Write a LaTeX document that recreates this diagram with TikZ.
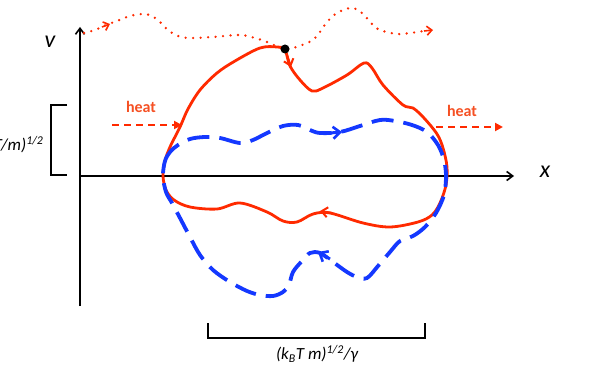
\documentclass[tikz,border=0pt]{standalone}
\usepackage{fontspec}
\setmainfont{Carlito}
\usetikzlibrary{arrows.meta}
\definecolor{rd}{RGB}{255,42,0}
\definecolor{bl}{RGB}{20,56,255}
\definecolor{heatc}{RGB}{245,80,35}
\begin{document}
\begin{tikzpicture}[x=1pt,y=-1pt,
  axis/.style={line width=1.6pt,black,-{Straight Barb[length=6pt,width=9pt,line width=1.6pt]}},
  brk/.style={line width=1.4pt,black},
  redloop/.style={line width=2.8pt,rd,line join=round},
  blueloop/.style={line width=3.8pt,bl,dash pattern=on 22pt off 10pt},
  dotpath/.style={line width=2.6pt,rd,line cap=round,dash pattern=on 0pt off 7.5pt},
  heatarrow/.style={line width=2pt,rd,dash pattern=on 7pt off 5pt,-{Triangle[length=8pt,width=8pt]}},
  heatlbl/.style={font=\bfseries\fontsize{16}{16}\selectfont,text=heatc},
  redtip/.style={line width=2.2pt,rd,-{Straight Barb[length=6pt,width=10pt,line width=2pt]}},
  bluetip/.style={line width=3pt,bl,-{Straight Barb[length=7pt,width=12pt,line width=2.6pt]}},
  axlbl/.style={font=\itshape\fontsize{24}{24}\selectfont},
  brlbl/.style={font=\itshape\fontsize{17}{17}\selectfont}]
\useasboundingbox (0,0) rectangle (598,369);

% axes
\coordinate (O) at (80,176);
\coordinate (ytop) at (80,27);
\coordinate (ybot) at (80,306);
\coordinate (xend) at (514,176);
\draw[axis] (ybot) -- (ytop);
\draw[axis] (O) -- (xend);
\node[axlbl] (vlab) at (50,42) {v};
\node[axlbl] (xlab) at (545,172) {x};

% brackets
\coordinate (lb1) at (67,105);
\coordinate (lb2) at (51,105);
\coordinate (lb3) at (51,175);
\coordinate (lb4) at (67,175);
\draw[brk] (lb1) -- (lb2) -- (lb3) -- (lb4);
\node[brlbl,anchor=east] (vlen) at (47,145) {(k\textsubscript{B}T/m)\textsuperscript{1/2}};
\coordinate (bb1) at (208,323);
\coordinate (bb2) at (208,338);
\coordinate (bb3) at (425,338);
\coordinate (bb4) at (425,323);
\draw[brk] (bb1) -- (bb2) -- (bb3) -- (bb4);
\node[brlbl] (xlen) at (317,354) {(k\textsubscript{B}T m)\textsuperscript{1/2}/γ};

% dotted trajectory
\draw[dotpath] plot[smooth,tension=0.6] coordinates {(84,33) (95,30) (106,25) (117,21) (130,16) (143,14) (152,16) (160,22) (168,30) (178,36) (190,38) (213,37) (240,35) (255,38) (267,42) (278,47) (285,49) (293,48) (302,45) (313,40) (320,32) (327,22) (337,13) (350,8) (358,10) (365,16) (372,24) (380,30) (397,34) (410,33) (424,31)};
\coordinate (da1) at (102,27);
\coordinate (da2) at (110,24);
\draw[rd,line width=1.6pt,-{Straight Barb[length=5pt,width=9pt,line width=1.6pt]}] (da1) -- (da2);
\coordinate (db1) at (424,31);
\coordinate (db2) at (433,30);
\draw[rd,line width=1.6pt,-{Straight Barb[length=5pt,width=9pt,line width=1.6pt]}] (db1) -- (db2);

% red loop
\draw[redloop] plot[smooth cycle,tension=0.55] coordinates {(285,50) (290,66) (300,80) (312,91) (323,88) (347,75) (364,63) (372,68) (383,85) (403,105) (413,108) (424,118) (437,134) (443,148) (447,167) (446,185) (440,203) (432,215) (418,222) (390,227) (363,223) (330,213) (313,214) (297,222) (283,221) (267,212) (240,203) (217,209) (190,207) (174,200) (166,190) (163,176) (165,161) (170,147) (180,127) (188,109) (200,90) (217,73) (235,61) (260,48) (277,47)};
\coordinate (ra1) at (287,55);
\coordinate (ra2) at (291,67);
\draw[redtip] (ra1) -- (ra2);
\coordinate (rb1) at (332,213);
\coordinate (rb2) at (320,211);
\draw[redtip] (rb1) -- (rb2);

% blue dashed loop
\draw[blueloop] plot[smooth cycle,tension=0.55] coordinates {(163,176) (165,161) (170,152) (178,145) (190,139) (205,137) (220,138) (240,143) (253,140) (267,133) (283,126) (298,125) (310,130) (320,133) (340,132) (360,126) (380,120) (395,121) (412,125) (427,132) (438,145) (444,160) (446,176) (444,195) (436,213) (425,227) (413,236) (400,241) (390,252) (378,266) (367,278) (357,277) (347,272) (333,262) (320,253) (310,253) (302,261) (293,272) (289,285) (283,292) (273,296) (260,295) (247,291) (230,282) (213,270) (200,255) (190,237) (180,218) (172,203) (166,192)};
\coordinate (ba1) at (330,133);
\coordinate (ba2) at (342,132);
\draw[bluetip] (ba1) -- (ba2);
\coordinate (bc1) at (330,259);
\coordinate (bc2) at (318,252);
\draw[bluetip] (bc1) -- (bc2);

% particle
\node[circle,fill=black,inner sep=0pt,minimum size=9pt] (dot) at (285,49) {};

% heat arrows
\coordinate (h1a) at (112,125);
\coordinate (h1b) at (182,125);
\draw[heatarrow] (h1a) -- (h1b);
\node[heatlbl] (heat1) at (141,107) {heat};
\coordinate (h2a) at (436,127);
\coordinate (h2b) at (503,127);
\draw[heatarrow] (h2a) -- (h2b);
\node[heatlbl] (heat2) at (462,111) {heat};
\end{tikzpicture}
\end{document}
